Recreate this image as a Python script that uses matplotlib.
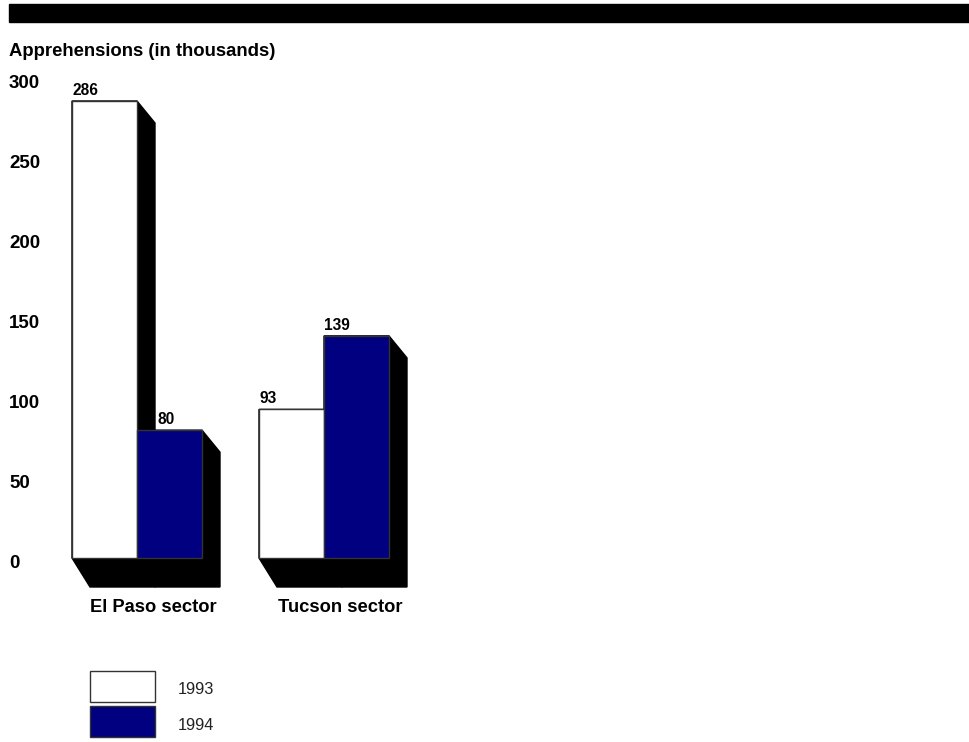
import matplotlib
matplotlib.use("Agg")
import matplotlib.pyplot as plt
import matplotlib.transforms as mtransforms
from matplotlib.patches import Polygon, Rectangle

plt.rcParams['font.family'] = ['Liberation Sans', 'DejaVu Sans']

sectors = ["El Paso sector", "Tucson sector"]
years = ["1993", "1994"]
values_1993 = [286, 93]
values_1994 = [80, 139]
y_ticks = [0, 50, 100, 150, 200, 250, 300]

colors = ["white", "#000080"]
W, H = 969, 742
fig = plt.figure(figsize=(W / 100, H / 100), dpi=100)

# black band across the top
fig.patches.append(Rectangle((9 / W, 1 - 22 / H), 960 / W, 18 / H,
                             transform=fig.transFigure, color="black"))
fig.text(9 / W, 1 - 52 / H, "Apprehensions (in thousands)", fontsize=13.3,
         fontweight="bold", va="center", ha="left")

# axes placed in pixels: x 60..460, y 60..620
px_per_val = (558 - 101) / 286
px_per_x = 65.0
ax = fig.add_axes([60 / W, 1 - 620 / H, 400 / W, 560 / H])
ax.set_xlim((60 - 137) / px_per_x, (460 - 137) / px_per_x)
ax.set_ylim(-(620 - 558) / px_per_val, (558 - 60) / px_per_val)
for s in ax.spines.values():
    s.set_visible(False)

group_x = [0, 187 / px_per_x]
# shadow geometry (pixels converted to data units)
d = 18 / px_per_x
e_top = 22 / px_per_val
e_bot = 29 / px_per_val

bars = []
for gi, gx in enumerate(group_x):
    for yi, vals in enumerate([values_1993, values_1994]):
        x0 = gx - 1 + yi
        x1 = x0 + 1
        h = vals[gi]
        shadow = Polygon([(x0, h), (x1, h), (x1 + d, h - e_top), (x1 + d, -e_bot),
                          (x0 + d, -e_bot), (x0, 0)], closed=True,
                         facecolor="black", edgecolor="black", zorder=1)
        ax.add_patch(shadow)
        bars.append((x0, h, yi))

for x0, h, yi in bars:
    ax.bar(x0, h, width=1, align="edge", color=colors[yi],
           edgecolor="#333333", linewidth=1, zorder=2)

label_dx = [0, 21 / px_per_x, 0, 0]
for i, (x0, h, yi) in enumerate(bars):
    ax.text(x0 + label_dx[i], h + 2, str(h), fontsize=11.2, fontweight="bold",
            ha="left", va="bottom")

for gx, name in zip(group_x, sectors):
    ax.text(gx + d - 2 / px_per_x, -(607 - 558) / px_per_val, name, fontsize=13.2,
            fontweight="bold", ha="center", va="center")

ax.set_xticks([])
ax.set_yticks(y_ticks)
ax.set_yticklabels([str(t) for t in y_ticks], fontsize=13.5, fontweight="bold",
                   ha="left")
ax.tick_params(axis="y", length=0, pad=51 * 0.72)
shift = mtransforms.ScaledTranslation(0, -3 / 100, fig.dpi_scale_trans)
for lab in ax.get_yticklabels():
    lab.set_transform(lab.get_transform() + shift)

# legend drawn by hand: boxes 65x31 px
box_tops = [671, 706]
for top, c, yr in zip(box_tops, colors, years):
    fig.patches.append(Rectangle((90 / W, 1 - (top + 31) / H), 65 / W, 31 / H,
                                 transform=fig.transFigure, facecolor=c,
                                 edgecolor="#333333", linewidth=1))
    fig.text(178 / W, 1 - (top + 19) / H, yr, fontsize=11.8, va="center",
             ha="left", color="#222222")

fig.savefig("out.png", dpi=100)
